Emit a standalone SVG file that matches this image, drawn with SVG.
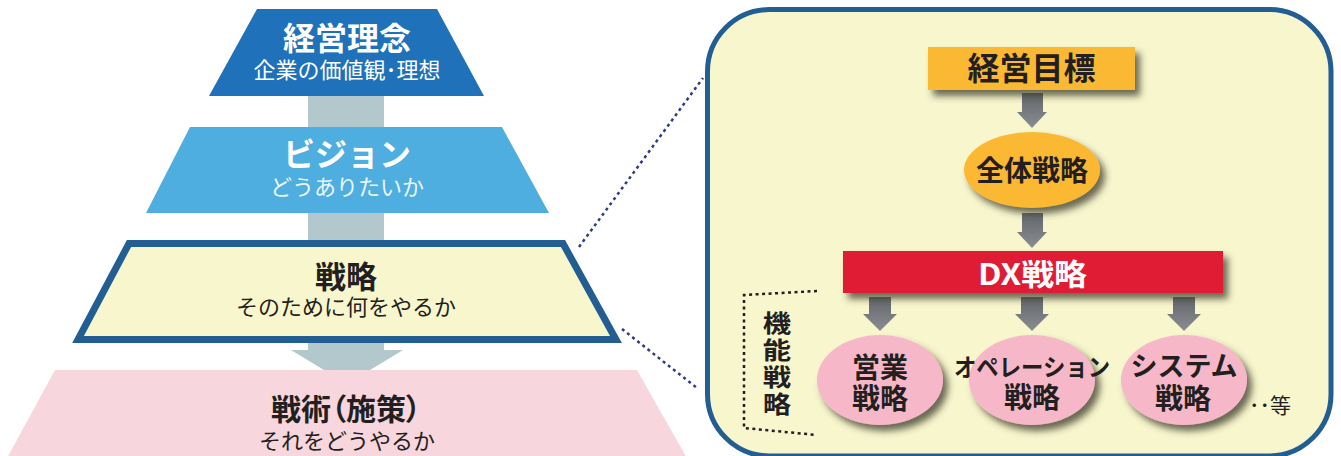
<svg xmlns="http://www.w3.org/2000/svg" width="1341" height="456" viewBox="0 0 1341 456">
<style>
.jp{font-family:"Noto Sans CJK JP","Noto Sans",sans-serif;}
.b{font-weight:700;}
.r{font-weight:400;}
.dark{fill:#231f20;}
.wt{fill:#ffffff;}
.arr{fill:url(#gg);}
.palt{font-feature-settings:"palt" 1;}
.dot1{fill:none;stroke:#2e3a86;stroke-width:2.5;stroke-dasharray:3 3.5;}
.dot2{fill:none;stroke:#231f20;stroke-width:2.5;stroke-dasharray:3 3.5;}
</style>
<defs>
<linearGradient id="gg" x1="0" y1="0" x2="0" y2="1">
<stop offset="0" stop-color="#62666b"/>
<stop offset="1" stop-color="#8a8d91"/>
</linearGradient>
<filter id="sh" x="-20%" y="-20%" width="150%" height="160%">
<feDropShadow dx="5" dy="6" stdDeviation="3.5" flood-color="#3b3a2a" flood-opacity="0.75"/>
</filter>
</defs>

<!-- pyramid stem -->
<g id="stem">
<rect x="308" y="96" width="76" height="256" fill="#b3c8cc"/>
<polygon points="291,350 403,350 347,384" fill="#b3c8cc"/>
</g>

<g id="tactics">
<polygon points="55,370 637,370 688,460 6,460" fill="#f8d6dd"/>
<text class="jp b dark palt" x="346" y="420" font-size="30" text-anchor="middle">戦術（施策）</text>
<text class="jp r dark" x="347" y="449" font-size="22" text-anchor="middle">それをどうやるか</text>
</g>

<g id="philosophy">
<polygon points="257,9 437,9 484,96 209,96" fill="#1f72b9"/>
<text class="jp b wt" x="347" y="49.5" font-size="32" text-anchor="middle">経営理念</text>
<text class="jp r wt" x="347" y="78" font-size="22" text-anchor="middle">企業の価値観･理想</text>
</g>

<g id="vision">
<polygon points="190,127 502,127 549,213 146,213" fill="#4eaee0"/>
<text class="jp b wt" x="347" y="166" font-size="32" text-anchor="middle">ビジョン</text>
<text class="jp r" fill="#eaf5fb" x="347" y="195" font-size="22" text-anchor="middle">どうありたいか</text>
</g>

<g id="strategy">
<polygon points="129,243.5 563,243.5 616,339.5 78,339.5" fill="#f8f6cc" stroke="#225e92" stroke-width="7" stroke-linejoin="miter"/>
<text class="jp b dark" x="346" y="288" font-size="31" text-anchor="middle">戦略</text>
<text class="jp r dark" x="346" y="315" font-size="22" text-anchor="middle">そのために何をやるか</text>
</g>

<g id="zoom-lines">
<line class="dot1" x1="579" y1="247" x2="703" y2="78"/>
<line class="dot1" x1="622" y1="329" x2="697" y2="388"/>
</g>

<g id="panel">
<rect x="707.5" y="9.5" width="623.5" height="446.5" rx="62" ry="62" fill="#f8f6cd" stroke="#225e92" stroke-width="5"/>
</g>

<g id="connectors">
<path class="arr" d="M1022,93 H1043 V112 H1047 L1032,128 L1017,112 H1022 Z"/>
<path class="arr" d="M1022,213 H1043 V232 H1047 L1032,248 L1017,232 H1022 Z"/>
<path class="arr" d="M869,297 H891 V314 H897 L880,331 L863,314 H869 Z"/>
<path class="arr" d="M1021,297 H1043 V314 H1049 L1032,331 L1015,314 H1021 Z"/>
<path class="arr" d="M1173,297 H1195 V314 H1201 L1184,331 L1167,314 H1173 Z"/>
<path class="dot2" d="M817,291 L744,295 L744,428 L817,435"/>
</g>

<g id="goal">
<rect x="928" y="47" width="207" height="43" fill="#fbb832" filter="url(#sh)"/>
<text class="jp b dark" x="1031.5" y="80" font-size="32" text-anchor="middle">経営目標</text>
</g>

<g id="overall">
<ellipse cx="1032" cy="170" rx="68" ry="38" fill="#fbb832" filter="url(#sh)"/>
<text class="jp b dark" x="1032" y="181" font-size="28" text-anchor="middle">全体戦略</text>
</g>

<g id="dx">
<rect x="843" y="251" width="380" height="42" fill="#e01e36" filter="url(#sh)"/>
<text class="jp b wt" x="1032.5" y="285" font-size="30" text-anchor="middle" textLength="109" lengthAdjust="spacingAndGlyphs">DX戦略</text>
</g>

<g id="functional-label" transform="translate(777,0) scale(1.18,1) translate(-777,0)">
<text class="jp b dark" font-size="24" text-anchor="middle"><tspan x="777" y="332">機</tspan><tspan x="777" y="359">能</tspan><tspan x="777" y="386">戦</tspan><tspan x="777" y="413">略</tspan></text>
</g>

<g id="sales">
<ellipse cx="880" cy="380" rx="63" ry="45" fill="#f6b8c8" filter="url(#sh)"/>
<text class="jp b dark" font-size="28" text-anchor="middle"><tspan x="880" y="378">営業</tspan><tspan x="880" y="409">戦略</tspan></text>
</g>

<g id="operation">
<ellipse cx="1032" cy="380" rx="63" ry="45" fill="#f6b8c8" filter="url(#sh)"/>
<text class="jp b dark" text-anchor="middle"><tspan x="1032" y="376" font-size="24" textLength="156" lengthAdjust="spacingAndGlyphs">オペレーション</tspan><tspan x="1032" y="408" font-size="28">戦略</tspan></text>
</g>

<g id="system">
<ellipse cx="1184" cy="380" rx="63" ry="45" fill="#f6b8c8" filter="url(#sh)"/>
<text class="jp b dark" text-anchor="middle"><tspan x="1184" y="376" font-size="27">システム</tspan><tspan x="1183" y="409" font-size="28">戦略</tspan></text>
</g>

<g id="etc">
<text class="jp r dark" x="1249" y="413" font-size="21">･･等</text>
</g>
</svg>
